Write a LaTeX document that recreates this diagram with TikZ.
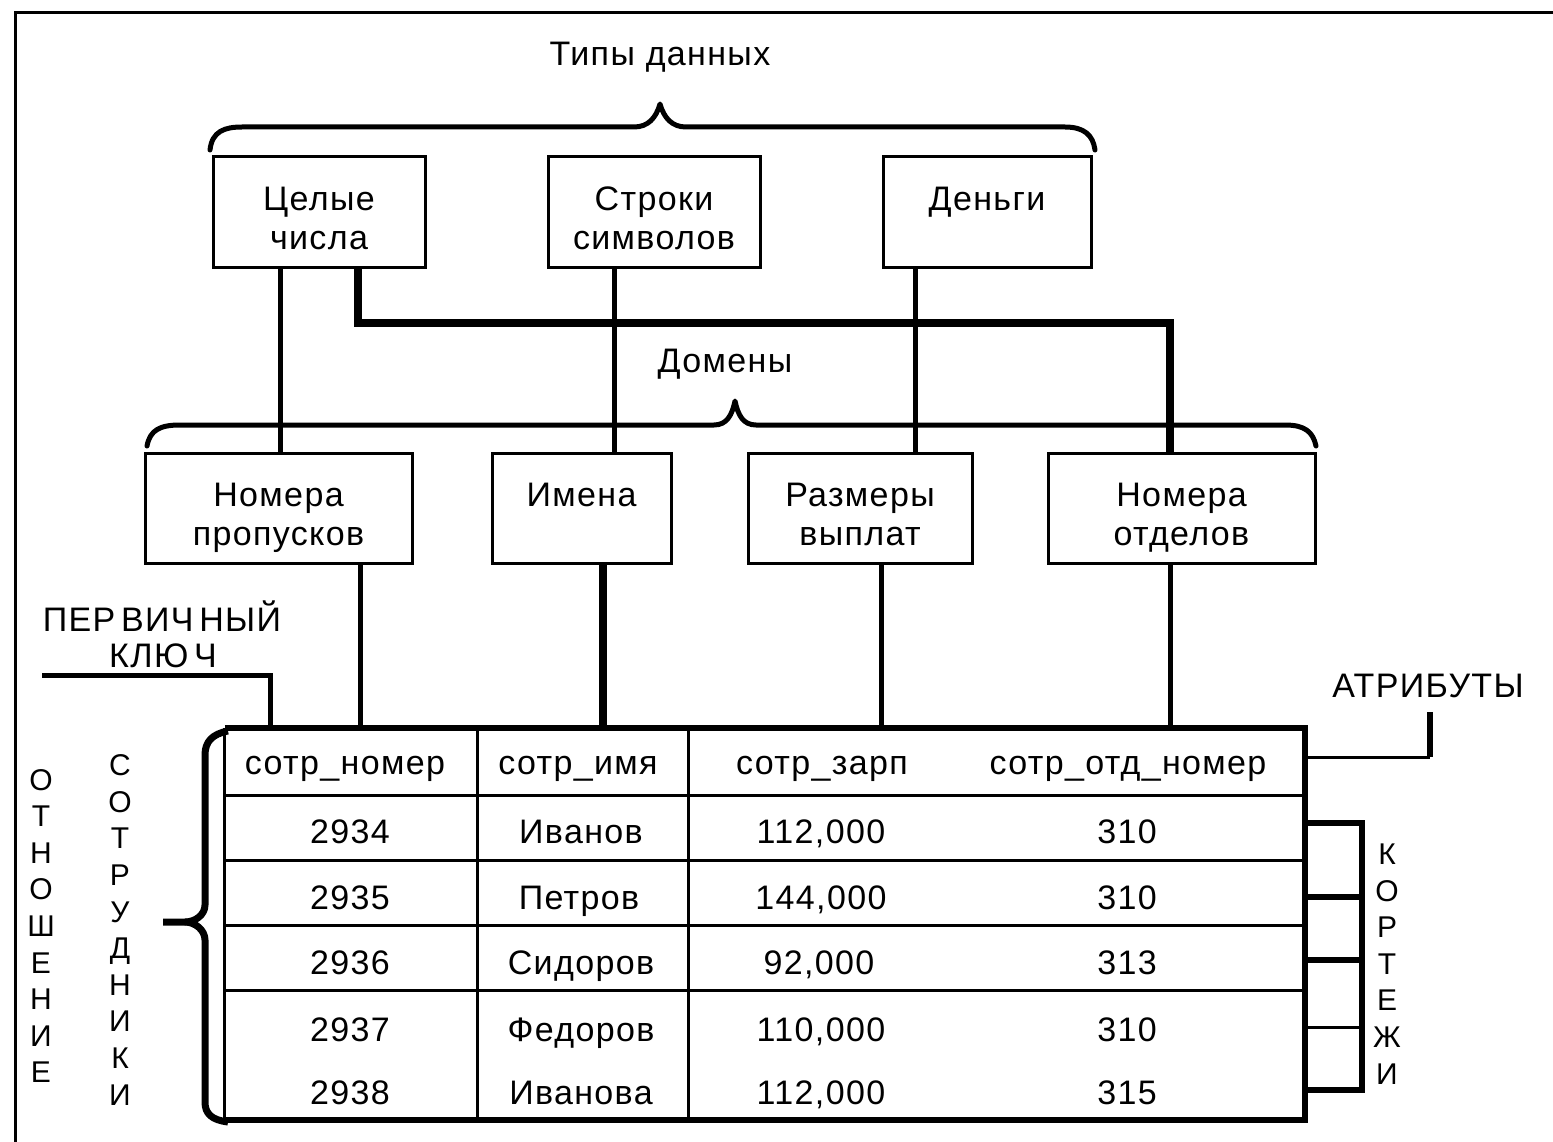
\documentclass[tikz,border=0pt]{standalone}
\usepackage{fontspec}
\setmainfont[LetterSpace=4]{Liberation Sans}
\newcommand{\lowtxt}[2]{\raisebox{-#1}[\height][\depth]{\begin{tabular}{@{}c@{}}#2\end{tabular}}}
\begin{document}
\begin{tikzpicture}[x=1pt,y=-1pt,
  txt/.style={font=\fontsize{34}{39}\selectfont, inner sep=0pt, align=center},
  cell/.style={font=\fontsize{34}{39}\selectfont, inner sep=0pt, text height=26pt, text depth=8pt},
  vtxt/.style={font=\fontsize{30}{36.6}\selectfont, inner sep=0pt, align=center},
  box/.style={draw, line width=3pt, minimum height=110pt, inner sep=0pt, font=\fontsize{34}{39}\selectfont},
  conn/.style={line width=5pt},
  fatconn/.style={line width=8pt},
  bracepath/.style={line width=5pt, line cap=round, line join=round},
  thin/.style={line width=3pt},
  thick/.style={line width=6pt}
]
\useasboundingbox[fill=white] (0,0) rectangle (1553,1142);
% outer frame
\draw[line width=3pt] (15,1142) -- (15,13) -- (1553,13);

% data types
\node[cell] (types) at (660,57) {Типы данных};
\draw[bracepath] (210,150) .. controls (212,131) and (225,127) .. (242,127) -- (634,127)
  .. controls (648,127) and (656,118) .. (660,104) .. controls (664,118) and (672,127) .. (686,127)
  -- (1065,127) .. controls (1084,127) and (1093,135) .. (1095,150);
\node[box, minimum width=212pt] (c1) at (319,212) {\lowtxt{10pt}{Целые\\числа}};
\node[box, minimum width=212pt] (c2) at (654,212) {\lowtxt{10pt}{Строки\\символов}};
\node[box, minimum width=208pt] (c3) at (987,212) {\lowtxt{10pt}{Деньги\\\mbox{}}};

% domains
\node[cell] (doms) at (725,363) {Домены};
\draw[bracepath] (147,446) .. controls (150,430) and (160,425) .. (180,425) -- (714,425)
  .. controls (727,425) and (732,415) .. (735,401) .. controls (738,415) and (743,425) .. (756,425)
  -- (1285,425) .. controls (1305,425) and (1313,432) .. (1316,446);
\node[box, minimum width=267pt] (d1) at (278.5,508.5) {\lowtxt{10pt}{Номера\\пропусков}};
\node[box, minimum width=179pt] (d2) at (581.5,508.5) {\lowtxt{10pt}{Имена\\\mbox{}}};
\node[box, minimum width=224pt] (d3) at (860,508.5) {\lowtxt{10pt}{Размеры\\выплат}};
\node[box, minimum width=267pt] (d4) at (1181.5,508.5) {\lowtxt{10pt}{Номера\\отделов}};

% type -> domain connectors
\coordinate (xa) at (280,0);
\coordinate (xb) at (358,0);
\coordinate (xc) at (614,0);
\coordinate (xd) at (915,0);
\coordinate (xe) at (1170,0);
\coordinate (ybend) at (0,323);
\draw[conn] (c1.south -| xa) -- (d1.north -| xa);
\draw[conn] (c2.south -| xc) -- (d2.north -| xc);
\draw[conn] (c3.south -| xd) -- (d3.north -| xd);
\draw[fatconn] (c1.south -| xb) -- (xb |- ybend) -- (xe |- ybend) -- (d4.north -| xe);

% table
\node[draw=none, minimum width=1080pt, minimum height=392pt, inner sep=0pt] (tbl) at (765,924) {};
\draw[thin] (tbl.north west) -- (tbl.south west);
\draw[thick] (tbl.north west) -- (tbl.north east) -- (tbl.south east) -- (tbl.south west);
\foreach \yy in {795,860,925,990} \draw[thin] (225,\yy) -- (1305,\yy);
\foreach \xx in {477,688} \draw[thin] (\xx,728) -- (\xx,1120);

% domain -> attribute connectors
\coordinate (xf) at (360,0);
\coordinate (xg) at (603,0);
\coordinate (xh) at (881,0);
\draw[conn] (d1.south -| xf) -- (tbl.north -| xf);
\draw[fatconn] (d2.south -| xg) -- (tbl.north -| xg);
\draw[conn] (d3.south -| xh) -- (tbl.north -| xh);
\draw[conn] (d4.south -| xe) -- (tbl.north -| xe);

% header
\node[cell] (h1) at (345,765) {сотр\_номер};
\node[cell] (h2) at (578,765) {сотр\_имя};
\node[cell] (h3) at (822,765) {сотр\_зарп};
\node[cell] (h4) at (1128,765) {сотр\_отд\_номер};
% rows
\node[cell] (a1) at (350,834) {2934};
\node[cell] (a2) at (581,834) {Иванов};
\node[cell] (a3) at (821,834) {112,000};
\node[cell] (a4) at (1127,834) {310};
\node[cell] (b1) at (350,900) {2935};
\node[cell] (b2) at (579,900) {Петров};
\node[cell] (b3) at (821,900) {144,000};
\node[cell] (b4) at (1127,900) {310};
\node[cell] (e1) at (350,965) {2936};
\node[cell] (e2) at (581,965) {Сидоров};
\node[cell] (e3) at (819,965) {92,000};
\node[cell] (e4) at (1127,965) {313};
\node[cell] (f1) at (350,1032) {2937};
\node[cell] (f2) at (581,1032) {Федоров};
\node[cell] (f3) at (821,1032) {110,000};
\node[cell] (f4) at (1127,1032) {310};
\node[cell] (g1) at (350,1095) {2938};
\node[cell] (g2) at (581,1095) {Иванова};
\node[cell] (g3) at (821,1095) {112,000};
\node[cell] (g4) at (1127,1095) {315};

% primary key
\node[cell] (pk1) at (162,622) {ПЕР\,ВИЧ\,НЫЙ};
\node[cell] (pk2) at (163,658) {КЛЮ\,Ч};
\coordinate (pkstart) at (42,675);
\coordinate (pkx) at (270,0);
\draw[conn] (pkstart) -- (pkx |- pkstart) -- (tbl.north -| pkx);

% attributes
\node[cell] (attr) at (1428,688) {АТРИБУТЫ};
\coordinate (atc) at (1430,757);
\draw[thin] (tbl.east |- atc) -- (atc);
\draw[thick] (atc) -- (1430,712);

% relation brace
\draw[line width=7pt, line join=round] (228,731) .. controls (212,734) and (205,742) .. (205,755) -- (205,905)
  .. controls (205,915) and (195,922) .. (185,922) -- (163,922);
\draw[line width=7pt, line join=round] (185,922) .. controls (195,922) and (205,930) .. (205,940) -- (205,1102)
  .. controls (205,1114) and (212,1120) .. (228,1122);
\node[vtxt] (rel) at (41,926) {О\\Т\\Н\\О\\Ш\\Е\\Н\\И\\Е};
\node[vtxt] (emp) at (120,930) {С\\О\\Т\\Р\\У\\Д\\Н\\И\\К\\И};

% tuples
\foreach \yy in {823,897,960,1090} \draw[thick] (1305,\yy) -- (1362,\yy);
\draw[thin] (1305,1027) -- (1362,1027);
\draw[thick] (1362,820) -- (1362,1093);
\node[vtxt] (tup) at (1387,964) {К\\О\\Р\\Т\\Е\\Ж\\И};
\end{tikzpicture}
\end{document}
